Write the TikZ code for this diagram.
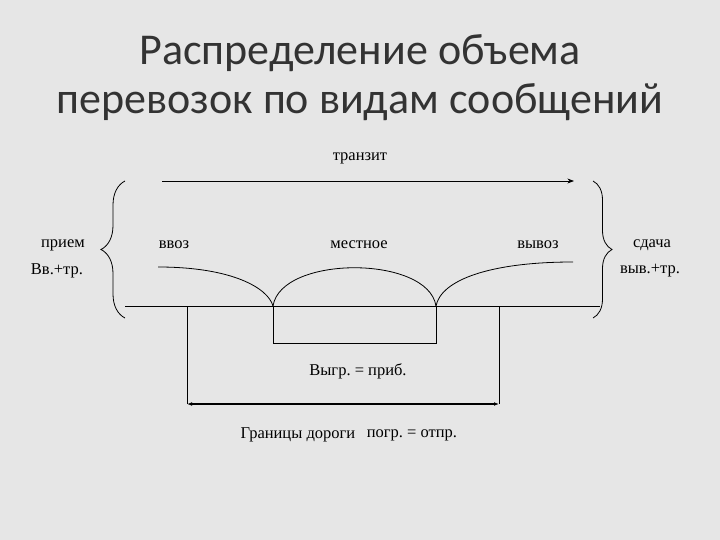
\documentclass[tikz,border=0pt]{standalone}
\usepackage{fontspec}
\setmainfont{Liberation Serif}
\newfontfamily\titlefont{Carlito}
\frenchspacing
\usetikzlibrary{positioning, arrows.meta, decorations.pathreplacing}
\definecolor{paper}{HTML}{E6E6E6}
\definecolor{titlegray}{HTML}{333333}
\tikzstyle{word} = [font=\fontsize{16.5}{16.5}\selectfont, inner sep=0pt, text=black]
\tikzstyle{line} = [black, line width=0.8pt]
\tikzstyle{bracket} = [black, line width=0.8pt, decorate]

\begin{document}
\begin{tikzpicture}[x=1pt, y=-1pt, >=Stealth]
	
	% background
	\fill[paper] (0,0) rectangle (720,540);
	
	% title
	\node[font=\titlefont\fontsize{44}{49}\selectfont, text=titlegray, align=center] (title) at (360,78) {Распределение объема\\перевозок по видам сообщений};
	
	% labels
	\node[word] (tranzit) at (360,158) {транзит};
	\node[word] (priem) at (63,245) {прием};
	\node[word] (vvtr) at (57,271) {Вв.+тр.};
	\node[word] (vvoz) at (174,245) {ввоз};
	\node[word] (mestnoe) at (359,245) {местное};
	\node[word] (vyvoz) at (538,245) {вывоз};
	\node[word] (sdacha) at (652,245) {сдача};
	\node[word] (vyvtr) at (650,271) {выв.+тр.};
	\node[word] (vygr) at (358,371) {Выгр. = приб.};
	\node[word] (granicy) at (298,435) {Границы дороги};
	\node[word] (pogr) at (412,435) {погр. = отпр.};
	
	% points
	\coordinate (tstart) at (162,181);
	\coordinate (tend) at (574,181);
	\coordinate (baseL) at (125,306);
	\coordinate (baseR) at (600,306);
	\coordinate (cuspA) at (273,306);
	\coordinate (cuspB) at (436,306);
	\coordinate (inL) at (158,267);
	\coordinate (outR) at (573,262);
	\coordinate (boxA) at (273,343);
	\coordinate (boxB) at (436,343);
	\coordinate (edgeA) at (187,306);
	\coordinate (edgeB) at (499,306);
	\coordinate (footA) at (187,404);
	\coordinate (footB) at (499,404);
	
	% transit arrow
	\draw[line, ->] (tstart) -- (tend);
	
	% braces
	\draw[bracket, decoration={brace, amplitude=24pt}] (125,318) -- (125,181);
	\draw[bracket, decoration={brace, amplitude=19pt}] (593,181) -- (593,318);
	
	% base line and flows
	\draw[line] (baseL) -- (baseR);
	\draw[line] (inL) .. controls (232,267) and (268,288) .. (cuspA);
	\draw[line] (cuspA) .. controls (281,255) and (428,255) .. (cuspB);
	\draw[line] (cuspB) .. controls (441,280) and (490,262) .. (outR);
	\draw[line] (cuspA) -- (boxA) -- (boxB) -- (cuspB);
	
	% road borders
	\draw[line] (edgeA) -- (footA);
	\draw[line] (edgeB) -- (footB);
	\draw[line, line width=1.4pt, {Latex[length=5pt]}-{Latex[length=5pt]}] (footA) -- (footB);
	
\end{tikzpicture}
\end{document}
